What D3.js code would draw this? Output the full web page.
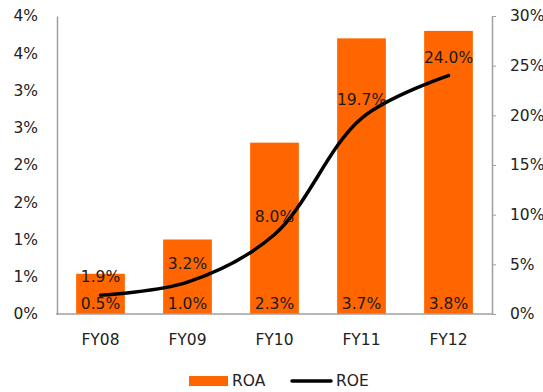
<!DOCTYPE html>
<html>
<head>
<meta charset="utf-8">
<script src="https://cdn.jsdelivr.net/npm/d3@7"></script>
<style>
  html, body { margin: 0; padding: 0; background: #fff; }
  svg { display: block; font-family: "DejaVu Sans", Verdana, sans-serif; }
</style>
</head>
<body>
<svg id="chart" width="543" height="392"></svg>
<script>
// Return on assets (bars, left axis) and return on equity (line, right axis)
const years = ["FY08", "FY09", "FY10", "FY11", "FY12"];
const roa = [0.54, 1.0, 2.3, 3.7, 3.8];
const roe = [1.9, 3.2, 8.0, 19.7, 24.0];
const leftTicks = [0, 0.5, 1, 1.5, 2, 2.5, 3, 3.5, 4];
const rightTicks = [0, 5, 10, 15, 20, 25, 30];

const svg = d3.select("#chart");
const m = { left: 57, right: 492, top: 16, bottom: 314 };
const axisColor = "#a0a0a0";
const orange = "#FF6600";

const x = d3.scaleBand().domain(years).range([m.left, m.right]).paddingInner(0.44).paddingOuter(0.22);
const yL = d3.scaleLinear().domain([0, 4]).range([m.bottom, m.top]);
const yR = d3.scaleLinear().domain([0, 30]).range([m.bottom, m.top]);

// Bars
svg.append("g").selectAll("rect").data(years).join("rect")
  .attr("x", d => x(d))
  .attr("width", x.bandwidth())
  .attr("y", (d, i) => yL(roa[i]))
  .attr("height", (d, i) => yL(0) - yL(roa[i]))
  .attr("fill", orange);

// Left axis: line only, labels rounded to whole percent
const gL = svg.append("g").attr("transform", `translate(${m.left},0)`)
  .call(d3.axisLeft(yL).tickValues(leftTicks).tickSize(0).tickPadding(19)
    .tickFormat(d => Math.round(d) + "%"));
gL.select(".domain").attr("stroke", axisColor).attr("stroke-width", 1.5);

// Right axis with short outward ticks
const gR = svg.append("g").attr("transform", `translate(${m.right},0)`)
  .call(d3.axisRight(yR).tickValues(rightTicks).tickSize(4).tickSizeOuter(0).tickPadding(14)
    .tickFormat(d => d + "%"));
gR.select(".domain").attr("stroke", axisColor).attr("stroke-width", 1.5);
gR.selectAll(".tick line").attr("stroke", axisColor).attr("stroke-width", 1);

// Bottom axis
const gB = svg.append("g").attr("transform", `translate(0,${m.bottom})`)
  .call(d3.axisBottom(x).tickSize(0).tickPadding(20));
gB.select(".domain").attr("stroke", axisColor).attr("stroke-width", 1.5)
  .attr("d", `M${m.left - 1},0H${m.right + 1}`);

svg.selectAll(".tick text").attr("fill", "#222").style("font-size", "15.5px")
  .style("font-family", "'DejaVu Sans', Verdana, sans-serif");

// ROE line, smoothed
const line = d3.line()
  .x((d, i) => x(years[i]) + x.bandwidth() / 2)
  .y(d => yR(d))
  .curve(d3.curveCatmullRom.alpha(0.5));
svg.append("path").datum(roe)
  .attr("d", line)
  .attr("fill", "none")
  .attr("stroke", "#000")
  .attr("stroke-width", 3.5)
  .attr("stroke-linecap", "round");

// Value labels
const labels = svg.append("g").style("font-size", "15.5px").attr("fill", "#1a1a1a").attr("text-anchor", "middle");
labels.selectAll("text.roa").data(roa).join("text").attr("class", "roa")
  .attr("x", (d, i) => x(years[i]) + x.bandwidth() / 2)
  .attr("y", m.bottom - 5)
  .text(d => d3.format(".1f")(d) + "%");
labels.selectAll("text.roe").data(roe).join("text").attr("class", "roe")
  .attr("x", (d, i) => x(years[i]) + x.bandwidth() / 2)
  .attr("y", d => yR(d) - 13)
  .text(d => d3.format(".1f")(d) + "%");

// Legend
const lg = svg.append("g").style("font-size", "15.5px").attr("fill", "#222");
lg.append("rect").attr("x", 189).attr("y", 376).attr("width", 39).attr("height", 10).attr("fill", orange);
lg.append("text").attr("x", 232).attr("y", 381).attr("dy", "0.35em").text("ROA");
lg.append("line").attr("x1", 292).attr("x2", 331).attr("y1", 381).attr("y2", 381)
  .attr("stroke", "#000").attr("stroke-width", 3.5).attr("stroke-linecap", "round");
lg.append("text").attr("x", 336).attr("y", 381).attr("dy", "0.35em").text("ROE");
</script>
</body>
</html>
